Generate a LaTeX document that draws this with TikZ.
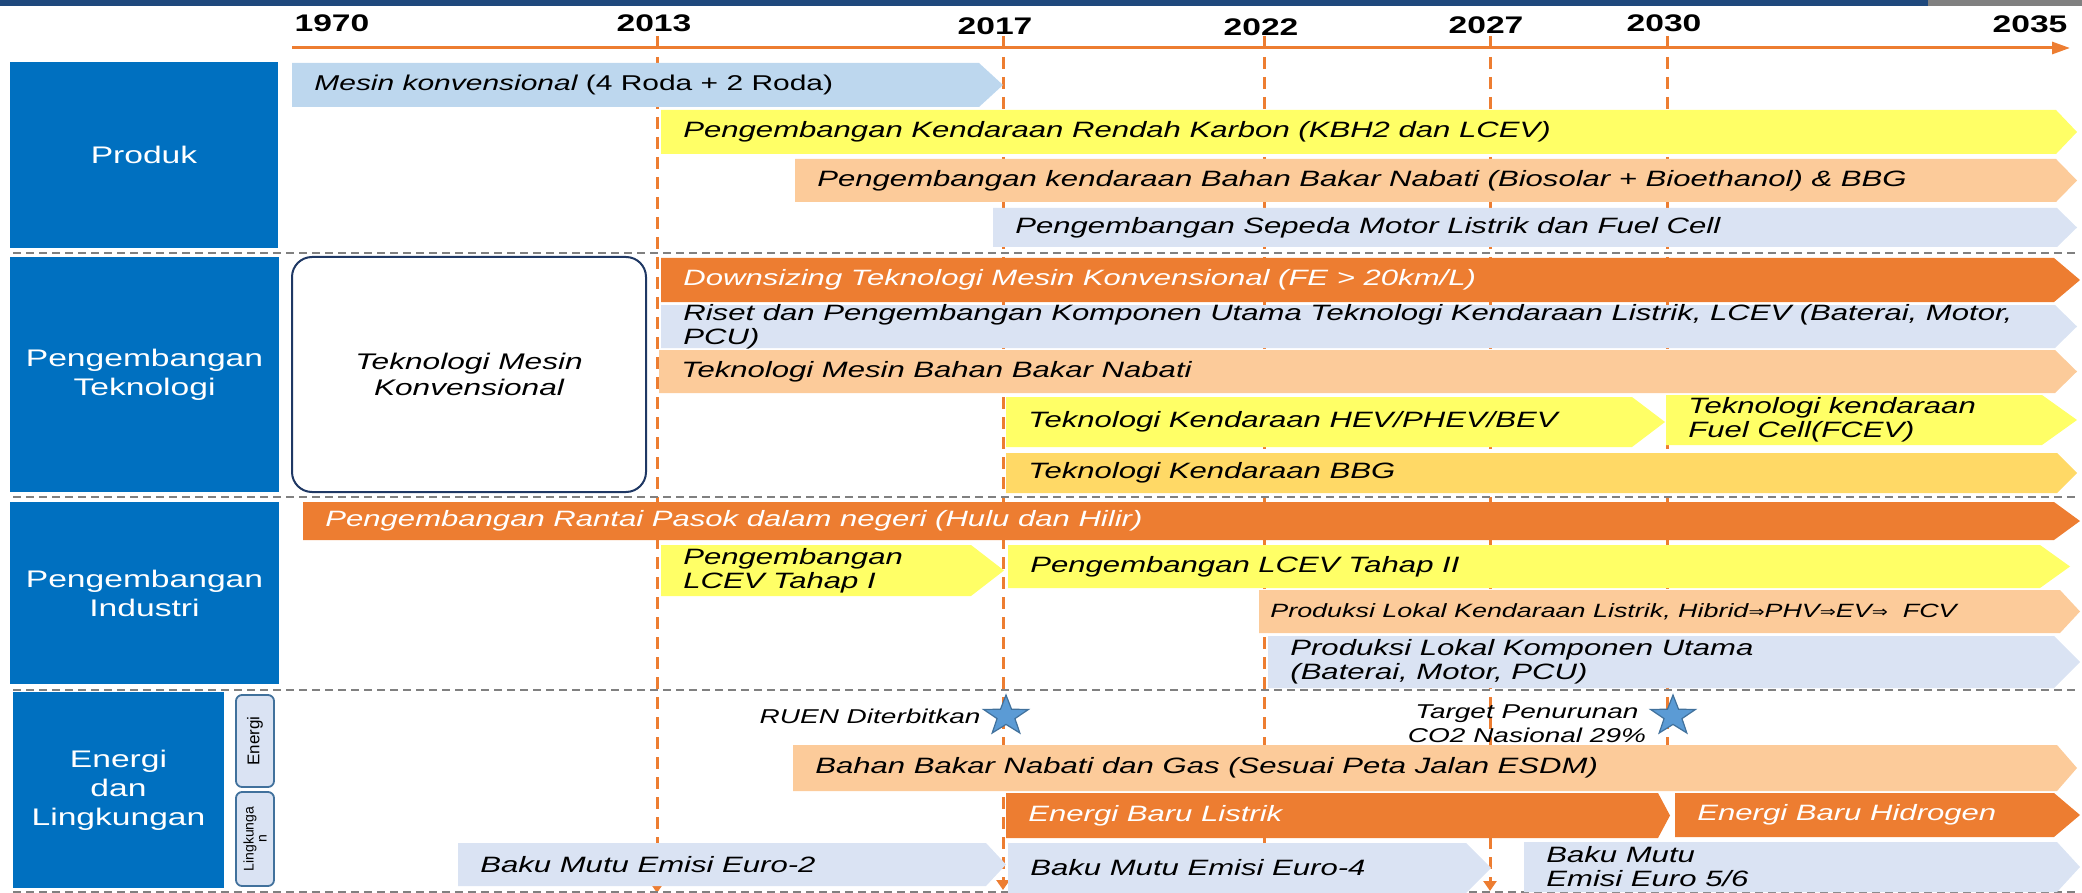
\documentclass[tikz,border=0pt]{standalone}
\usepackage{fontspec}
\setmainfont{Liberation Sans}[FakeStretch=1.4]
\newfontfamily\narrowfont{Liberation Sans}
\newfontfamily\arrowfont{DejaVu Sans}[FakeStretch=1.2]
\usepackage{tikz}
\usetikzlibrary{arrows.meta,shapes.geometric}

\definecolor{boxblue}{HTML}{0070C0}
\definecolor{topblue}{HTML}{1F497D}
\definecolor{topgrey}{HTML}{808080}
\definecolor{lineorange}{HTML}{ED7D31}
\definecolor{barorange}{HTML}{ED7D31}
\definecolor{baryellow}{HTML}{FFFF66}
\definecolor{barpeach}{HTML}{FCCB9A}
\definecolor{barsky}{HTML}{BDD7EE}
\definecolor{bargrey}{HTML}{DAE3F3}
\definecolor{bargold}{HTML}{FFD966}
\definecolor{starblue}{HTML}{5B9BD5}
\definecolor{staredge}{HTML}{41719C}
\definecolor{navy}{HTML}{1F3864}

% bar: [tip]{name}{x1}{y1}{x2}{y2}{style}{text}
\newcommand{\tlbar}[8][22]{%
  \fill[#7] (#3,#4) -- ({#5-#1},#4) -- (#5,{(#4+#6)/2}) -- ({#5-#1},#6) -- (#3,#6) -- cycle;
  \node[bartext,#7,fill=none] (#2) at ({#3+22},{(#4+#6)/2}) {#8};}
\newcommand{\imp}{{\arrowfont\fontsize{8}{10}\selectfont ⇒}}

\begin{document}
\begin{tikzpicture}[x=0.5pt, y=-0.5pt,
    yearline/.style={draw=lineorange, line width=1.5pt, dash pattern=on 6pt off 4pt},
    endtip/.style={-{Triangle[width=6.5pt,length=5pt]}},
    sepline/.style={draw=topgrey, line width=1.2pt, dash pattern=on 4pt off 2.5pt},
    yearlbl/.style={font=\fontsize{12}{14}\selectfont\bfseries, inner sep=0pt},
    secbox/.style={fill=boxblue, text=white, align=center, inner sep=0pt,
                   font=\fontsize{12}{14.5}\selectfont},
    subbox/.style={draw=staredge, fill=bargrey, line width=0.9pt, rounded corners=3pt,
                   rotate=90, inner sep=0pt, align=center},
    bartext/.style={anchor=west, inner sep=0pt, align=left,
                    font=\fontsize{11.1}{12}\selectfont\itshape},
    note/.style={inner sep=0pt, align=center, font=\fontsize{10}{12}\selectfont\itshape},
    starmark/.style={star, star points=5, star point ratio=2.5, fill=starblue, draw=staredge,
                 line width=0.6pt, minimum size=21pt, inner sep=0pt, xscale=1.12, transform shape},
    yelbar/.style={fill=baryellow},
    peachbar/.style={fill=barpeach},
    skybar/.style={fill=barsky},
    greybar/.style={fill=bargrey},
    goldbar/.style={fill=bargold},
    orangebar/.style={fill=barorange, text=white}]

  \useasboundingbox (0,0) rectangle (2082,893);
  \fill[topblue] (0,0) rectangle (1928,6);
  \fill[topgrey] (1928,0) rectangle (2082,6);

  % time axis
  \coordinate (ax0) at (292,48);
  \coordinate (ax1) at (2070,48);
  \draw[lineorange, line width=1.5pt, -{Triangle[width=6pt,length=9pt]}] (ax0) -- (ax1);
  \foreach \yr/\xx/\yy in {1970/332/23, 2013/654/23, 2017/995/26, 2022/1261/27,
                           2027/1486/25, 2030/1664/23, 2035/2030/24}
    \node[yearlbl] (y\yr) at (\xx,\yy) {\yr};

  \foreach \yr/\xx/\yb in {2013/657/893, 2017/1003/890, 2022/1264/848,
                           2027/1490/891, 2030/1667/745} {
    \coordinate (t\yr) at (\xx,36);
    \coordinate (b\yr) at (\xx,\yb);
    \draw[lineorange, line width=1.5pt] (t\yr) -- (\xx,48);
  }
  \draw[yearline, endtip] (657,57) -- (b2013);
  \draw[yearline, endtip] (1003,57) -- (b2017);
  \draw[yearline] (1264,57) -- (b2022);
  \draw[yearline, endtip] (1490,57) -- (b2027);
  \draw[yearline] (1667,57) -- (b2030);

  % rows
  \foreach \yy in {253,497,690,892}
    \draw[sepline] (13,\yy) -- (2075,\yy);

  \node[secbox, minimum width=134pt, minimum height=93pt] (produk) at (144,155) {Produk};
  \node[secbox, minimum width=134.5pt, minimum height=117.5pt] (teknologi) at (144.5,374.5)
    {Pengembangan\\Teknologi};
  \node[secbox, minimum width=134.5pt, minimum height=91pt] (industri) at (144.5,593)
    {Pengembangan\\Industri};
  \node[secbox, minimum width=105.5pt, minimum height=98pt] (lingkungan) at (118.5,790)
    {Energi\\dan\\Lingkungan};
  \node[subbox, minimum width=46pt, minimum height=19pt,
        font=\narrowfont\fontsize{8.5}{9}\selectfont] (energi) at (255,741) {Energi};
  \node[subbox, minimum width=47pt, minimum height=19pt,
        font=\narrowfont\fontsize{7}{6.5}\selectfont] (lingk) at (255,839) {Lingkunga\\n};

  \node[draw=navy, line width=1pt, rounded corners=10pt, minimum width=177pt,
        minimum height=117.5pt, align=center, font=\fontsize{11.3}{13}\selectfont\itshape]
        (konv) at (469,374.5) {Teknologi Mesin\\Konvensional};

  % Produk
  \tlbar[24]{mesin}{292}{63}{1003}{107}{skybar}{\fontsize{10.7}{12}\selectfont Mesin konvensional \upshape(4 Roda + 2 Roda)}
  \tlbar[21]{karbon}{661}{110}{2077}{154}{yelbar}{Pengembangan Kendaraan Rendah Karbon (KBH2 dan LCEV)}
  \tlbar[21]{nabati}{795}{159}{2077}{202}{peachbar}{Pengembangan kendaraan Bahan Bakar Nabati (Biosolar + Bioethanol) \& BBG}
  \tlbar[20]{sepeda}{993}{208}{2077}{247}{greybar}{Pengembangan Sepeda Motor Listrik dan Fuel Cell}

  % Pengembangan Teknologi
  \tlbar[26]{downsize}{661}{258}{2080}{302}{orangebar}{Downsizing Teknologi Mesin Konvensional (FE > 20km/L)}
  \tlbar[22]{riset}{661}{305}{2077}{348}{greybar}{Riset dan Pengembangan Komponen Utama Teknologi Kendaraan Listrik, LCEV (Baterai, Motor,\\PCU)}
  \tlbar[22]{bbn}{659}{350}{2077}{393}{peachbar}{Teknologi Mesin Bahan Bakar Nabati}
  \tlbar[33]{hev}{1006}{397}{1665}{447}{yelbar}{Teknologi Kendaraan HEV/PHEV/BEV}
  \tlbar[35]{fcev}{1666}{395}{2077}{445}{yelbar}{Teknologi kendaraan\\Fuel Cell(FCEV)}
  \tlbar[20]{bbg}{1006}{453}{2077}{493}{goldbar}{Teknologi Kendaraan BBG}

  % Pengembangan Industri
  \tlbar[26]{rantai}{303}{502}{2080}{540}{orangebar}{Pengembangan Rantai Pasok dalam negeri (Hulu dan Hilir)}
  \tlbar[33]{lcev1}{661}{545}{1004}{596}{yelbar}{Pengembangan\\LCEV Tahap I}
  \tlbar[30]{lcev2}{1008}{545}{2070}{588}{yelbar}{Pengembangan LCEV Tahap II}
  \tlbar[20]{lokal}{1259}{590}{2080}{633}{peachbar}{\hspace{-5.5pt}\fontsize{9.6}{12}\selectfont Produksi Lokal Kendaraan Listrik, Hibrid\imp PHV\imp EV\imp\ \ FCV}
  \tlbar[26]{komponen}{1268}{636}{2080}{688}{greybar}{Produksi Lokal Komponen Utama\\(Baterai, Motor, PCU)}

  % Energi dan Lingkungan
  \node[starmark] (star1) at (1006,716) {};
  \node[note, anchor=east] (ruen) at (981,716) {RUEN Diterbitkan};
  \node[starmark] (star2) at (1673,716) {};
  \node[note] (target) at (1527,724) {Target Penurunan\\CO2 Nasional 29\%};
  \tlbar[20]{gas}{793}{745}{2077}{791}{peachbar}{Bahan Bakar Nabati dan Gas (Sesuai Peta Jalan ESDM)}
  \tlbar[12]{listrik}{1006}{793}{1670}{838}{orangebar}{Energi Baru Listrik}
  \tlbar[26]{hidrogen}{1675}{793}{2080}{837}{orangebar}{Energi Baru Hidrogen}
  \tlbar[20]{euro2}{458}{843}{1006}{886}{greybar}{Baku Mutu Emisi Euro-2}
  \tlbar[25]{euro4}{1008}{843}{1491}{893}{greybar}{Baku Mutu Emisi Euro-4}
  \tlbar[23]{euro56}{1524}{842}{2080}{892}{greybar}{Baku Mutu\\Emisi Euro 5/6}

\end{tikzpicture}
\end{document}
